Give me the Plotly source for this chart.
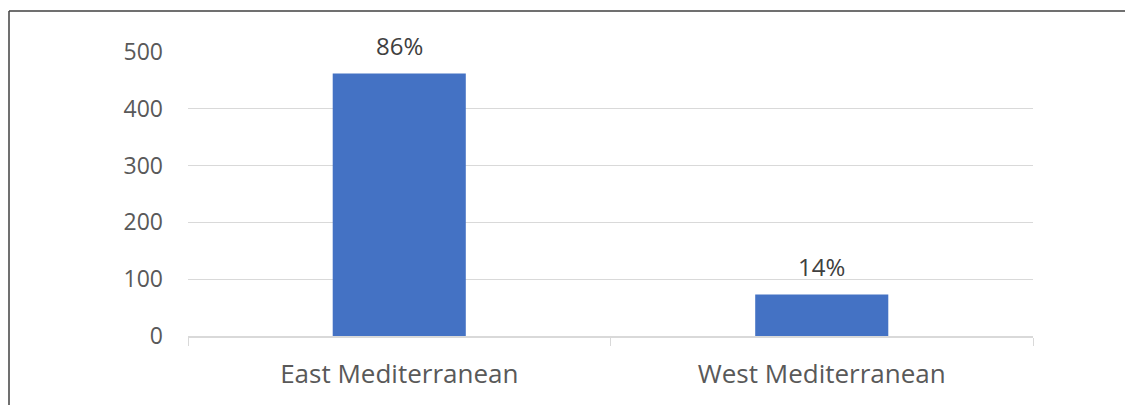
import plotly.graph_objects as go

categories = ["East Mediterranean", "West Mediterranean"]
values = [462, 73]
pct_labels = ["86%", "14%"]
y_ticks = [0, 100, 200, 300, 400, 500]

# the page body adds an 8px offset; layout numbers are relative to the figure
W, H = 1133, 405
ML, MT = 180, 44
pw, ph = 845, 284
MR = W - ML - pw
MB = H - MT - ph

FONT = "Open Sans, Lato, sans-serif"

fig = go.Figure()
fig.add_trace(go.Bar(
    x=categories, y=values, width=0.315,
    marker=dict(color="#4472C4", line=dict(width=0)),
    hoverinfo="x+y",
))

for c, v, t in zip(categories, values, pct_labels):
    fig.add_annotation(x=c, y=v, text=t, showarrow=False, yanchor="bottom",
                       yshift=10, font=dict(family=FONT, size=24, color="#404040"))

# outer frame (left and top edges)
fx0 = (1 - ML) / pw
fy0 = 1 + (MT - 3) / ph
fx1 = (W + 5 - ML) / pw
fyb = -(MB + 5) / ph
fig.add_shape(type="line", xref="paper", yref="paper", x0=fx0, x1=fx1, y0=fy0, y1=fy0,
              line=dict(color="#404040", width=1.5))
fig.add_shape(type="line", xref="paper", yref="paper", x0=fx0, x1=fx0, y0=fyb, y1=fy0,
              line=dict(color="#404040", width=1.5))

fig.update_layout(
    width=W, height=H,
    margin=dict(l=ML, r=MR, t=MT, b=MB),
    paper_bgcolor="white", plot_bgcolor="white",
    showlegend=False,
    font=dict(family=FONT, size=22, color="#595959"),
    xaxis=dict(
        type="category", showline=True, linecolor="#D9D9D9", linewidth=1.5,
        ticks="outside", tickson="boundaries", ticklen=8, tickcolor="#D9D9D9",
        tickfont=dict(family=FONT, size=26, color="#595959"), ticklabelstandoff=14,
        showgrid=False,
    ),
    yaxis=dict(
        range=[0, 500], tickvals=y_ticks, showgrid=True, gridcolor="#D9D9D9", gridwidth=1,
        zeroline=False, showline=False, ticks="", ticklabelstandoff=24,
        tickfont=dict(family=FONT, size=23, color="#595959"),
    ),
)

fig.write_html("out.html")
